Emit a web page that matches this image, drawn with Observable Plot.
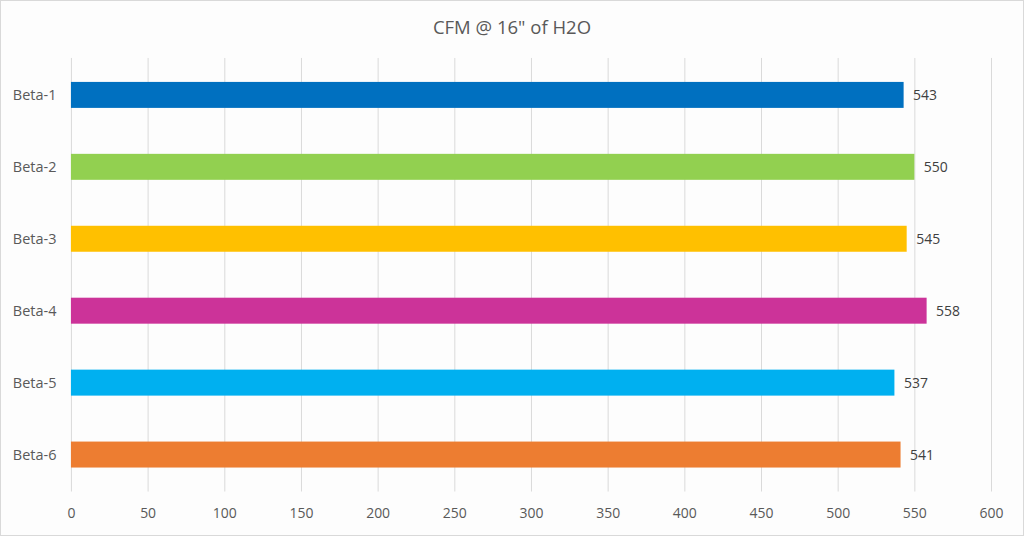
<!DOCTYPE html>
<html>
<head>
<meta charset="utf-8">
<script src="https://cdn.jsdelivr.net/npm/d3@7"></script>
<script src="https://cdn.jsdelivr.net/npm/@observablehq/plot@0.6"></script>
<style>
  html, body { margin: 0; padding: 0; background: #fff; }
  #wrap { position: relative; width: 1024px; height: 536px; background: #fdfdfd; box-sizing: border-box; border: 1px solid #d9d9d9; }
  #title { position: absolute; top: 13px; left: 0; width: 100%; text-align: center; font-family: "Open Sans", sans-serif; font-size: 18.5px; color: #595959; }
  #chart { position: absolute; top: -1px; left: -1px; }
</style>
</head>
<body>
<div id="wrap">
  <div id="title">CFM @ 16" of H2O</div>
  <div id="chart"></div>
</div>
<script>
const categories = ["Beta-1", "Beta-2", "Beta-3", "Beta-4", "Beta-5", "Beta-6"];
const values = [543, 550, 545, 558, 537, 541];
const colors = ["#0070C0", "#92D050", "#FFC000", "#CC3399", "#00B0F0", "#ED7D31"];
const xTicks = [0, 50, 100, 150, 200, 250, 300, 350, 400, 450, 500, 550, 600];

const data = categories.map((c, i) => ({name: c, value: values[i], color: colors[i]}));

const chart = Plot.plot({
  width: 1024,
  height: 536,
  marginLeft: 71,
  marginRight: 32,
  marginTop: 58,
  marginBottom: 44,
  style: {fontFamily: "Open Sans, sans-serif", fontSize: "13px", color: "#595959", background: "transparent"},
  x: {domain: [0, 600], ticks: xTicks, label: null},
  y: {domain: categories, label: null, paddingInner: 0.64, paddingOuter: 0.32},
  marks: [
    Plot.ruleX(xTicks, {stroke: "#dadada", strokeWidth: 1}),
    Plot.axisX({ticks: xTicks, tickSize: 0, tickPadding: 16, label: null, fontSize: 14, fill: "#595959"}),
    Plot.axisY({tickSize: 0, tickPadding: 15, label: null, fontSize: 14.5, fill: "#595959"}),
    Plot.barX(data, {x: "value", y: "name", fill: "color"}),
    Plot.text(data, {x: "value", y: "name", text: d => String(d.value), textAnchor: "start", dx: 9, fontSize: 14, fill: "#404040"})
  ]
});
document.getElementById("chart").appendChild(chart);
</script>
</body>
</html>
